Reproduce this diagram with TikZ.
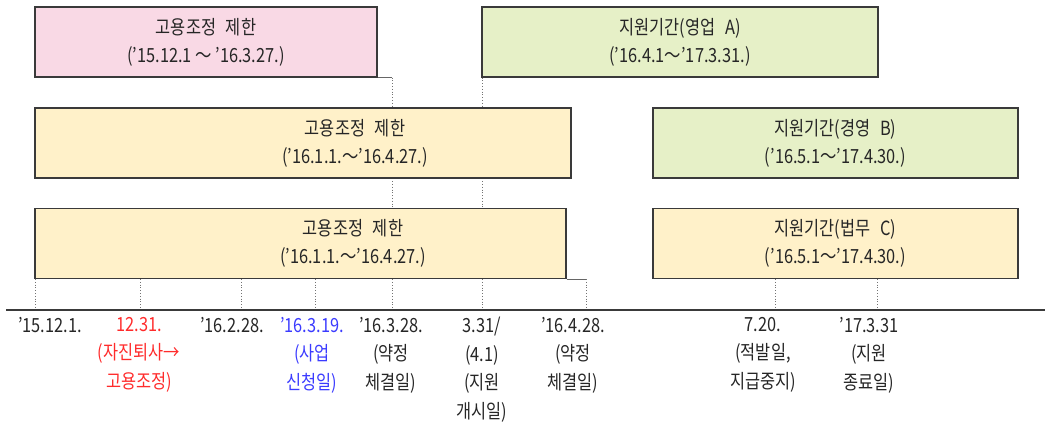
\documentclass[tikz,border=0pt]{standalone}
\usepackage{fontspec}
\setmainfont{Noto Sans CJK KR}[FakeStretch=0.84]
\usetikzlibrary{backgrounds}
\definecolor{limitpink}{HTML}{F9D9E5}
\definecolor{supportgreen}{HTML}{E6F0C7}
\definecolor{adjyellow}{HTML}{FFF1C9}
\definecolor{rimgray}{HTML}{3A3A3A}
\definecolor{notered}{HTML}{FF2B2B}
\definecolor{noteblue}{HTML}{3B3BFF}
\tikzset{
  period/.style={
    draw=rimgray,
    line width=1.1pt,
    inner sep=0pt,
    minimum height=70pt,
    align=center,
    font=\fontsize{19.5}{28}\selectfont,
    text=black!85,
  },
  period text/.style={
    align=center,
    inner sep=0pt,
    font=\fontsize{19.5}{28}\selectfont,
    text=black!85,
  },
  day tick/.style={draw=black!55, dotted, line width=0.8pt},
  day label/.style={
    align=center,
    anchor=north,
    inner sep=0pt,
    font=\fontsize{19.5}{28.5}\selectfont,
    text=black!85,
  },
  axis rule/.style={draw=rimgray, line width=1.4pt},
  stub/.style={draw=black!60, line width=0.8pt},
}

\begin{document}
\begin{tikzpicture}[x=1pt, y=-1pt]
\useasboundingbox (0,0) rectangle (1045,426);

% periods
\node [period, fill=limitpink, minimum width=342pt] (limit1) at (206,42)
  {고용조정\enspace 제한\\(’15.12.1 ～ ’16.3.27.)};
\node [period, fill=supportgreen, minimum width=396pt] (supportA) at (680,42)
  {지원기간(영업\enspace A)\\(’16.4.1～’17.3.31.)};
\node [period, fill=adjyellow, minimum width=536pt] (limit2) at (303,143) {};
\node [period text] (limit2 text) at (355,143)
  {고용조정\enspace 제한\\(’16.1.1.～’16.4.27.)};
\node [period, fill=supportgreen, minimum width=365pt] (supportB) at (835.5,143)
  {지원기간(경영\enspace B)\\(’16.5.1～’17.4.30.)};
\node [period, fill=adjyellow, minimum width=531pt] (limit3) at (300.5,243.5) {};
\node [period text] (limit3 text) at (353,243.5)
  {고용조정\enspace 제한\\(’16.1.1.～’16.4.27.)};
\node [period, fill=adjyellow, minimum width=365pt] (supportC) at (835.5,243.5)
  {지원기간(법무\enspace C)\\(’16.5.1～’17.4.30.)};

% time axis
\coordinate (axis west) at (6,310);
\coordinate (axis east) at (1045,310);
\foreach \x/\n in {35/1,140/2,241/3,315/4,392/5,482/6,586/7,775/8,877/9}
  \coordinate (t\n) at (\x,310);

\begin{scope}[on background layer]
\foreach \n in {1,2,3,4,7}
  \draw [day tick] (t\n |- limit3.south) -- (t\n);
\foreach \n in {8,9}
  \draw [day tick] (t\n |- supportC.south) -- (t\n);
\draw [day tick] (t5 |- limit1.south) -- (t5);
\draw [day tick] (t6 |- supportA.south) -- (t6);
\end{scope}
\draw [stub] (limit1.south east) -- (limit1.south east -| t5);
\draw [stub] (limit3.south east) -- (limit3.south east -| t7);

\draw [axis rule] (axis west) -- (axis east);

% dates
\node [day label] (d1) at (50,317) {’15.12.1.};
\node [day label, text=notered] (d2) at (139,317) {12.31.\\(자진퇴사→\\고용조정)};
\node [day label] (d3) at (232,317) {’16.2.28.};
\node [day label, text=noteblue] (d4) at (312,317) {’16.3.19.\\(사업\\신청일)};
\node [day label] (d5) at (391,317) {’16.3.28.\\(약정\\체결일)};
\node [day label] (d6) at (482,317) {3.31/\\(4.1)\\(지원\\개시일)};
\node [day label] (d7) at (573,317) {’16.4.28.\\(약정\\체결일)};
\node [day label] (d8) at (763,317) {7.20.\\(적발일,\\지급중지)};
\node [day label] (d9) at (869,317) {’17.3.31\\(지원\\종료일)};
\end{tikzpicture}
\end{document}
